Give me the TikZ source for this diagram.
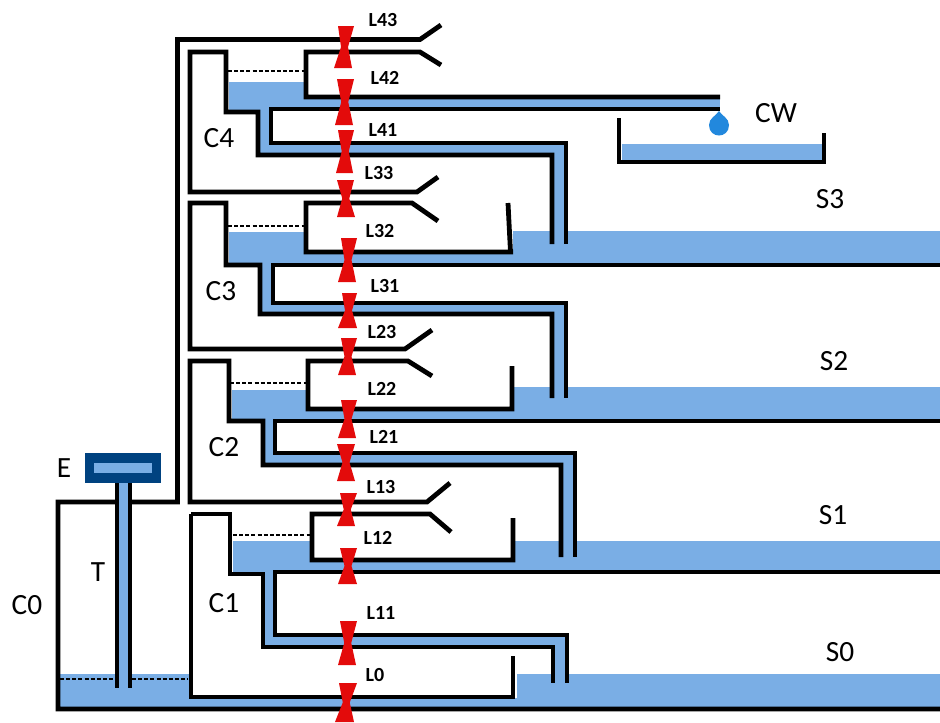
\documentclass[tikz,border=0pt]{standalone}
\usepackage{fontspec}
\setmainfont{Carlito}
\definecolor{water}{HTML}{7AAEE5}
\definecolor{dropblue}{HTML}{2288DD}
\definecolor{tankblue}{HTML}{004280}
\definecolor{valvered}{HTML}{E30B0B}
\tikzset{
  wall/.style={draw=black,line width=3.6pt,line join=miter},
  level/.style={draw=black,line width=1pt,dash pattern=on 3pt off 1.6pt},
  waterfill/.style={fill=water,draw=none},
  valvefill/.style={fill=valvered,draw=none},
  biglabel/.style={font=\fontsize{22}{26}\selectfont,inner sep=0pt},
  vlabel/.style={font=\fontsize{15}{18}\selectfont\bfseries,inner sep=0pt}
}
\newcommand{\valvemark}[6]{% top y, top xl, top xr, bottom y, bottom xl, bottom xr
  \path[valvefill] (#2,#1) -- (#3,#1) -- ({(#2+#3+#5+#6)/4+3.5},{(#1+#4)/2}) -- (#6,#4) -- (#5,#4) -- ({(#2+#3+#5+#6)/4-3.5},{(#1+#4)/2}) -- cycle;
}
\begin{document}
\begin{tikzpicture}[x=0.75pt,y=-0.75pt]
\useasboundingbox[fill=white] (0,0) rectangle (940,722);
% ---- water
\path[waterfill] (60,674) rectangle (190,707);
\path[waterfill] (190,698) rectangle (940,707);
\path[waterfill] (517,674) rectangle (940,707);
% C1
\path[waterfill] (233,541) rectangle (312,572);
\path[waterfill] (312,560) rectangle (515,570);
\path[waterfill] (515,541) rectangle (940,570);
\path[waterfill] (265,572) rectangle (275,645);
\path[waterfill] (265,635) rectangle (567,645);
\path[waterfill] (555,635) rectangle (565,676);
% C2
\path[waterfill] (232,390) rectangle (308,420);
\path[waterfill] (308,409) rectangle (514,419);
\path[waterfill] (514,387) rectangle (940,419);
\path[waterfill] (265,420) rectangle (275,463);
\path[waterfill] (265,453) rectangle (575,463);
\path[waterfill] (563,453) rectangle (573,545);
% C3
\path[waterfill] (229,232) rectangle (306,264);
\path[waterfill] (306,252) rectangle (513,263);
\path[waterfill] (513,231) rectangle (940,263);
\path[waterfill] (262,264) rectangle (273,312);
\path[waterfill] (262,303) rectangle (566,312);
\path[waterfill] (554,303) rectangle (564,390);
% C4
\path[waterfill] (229,82) rectangle (304,110);
\path[waterfill] (304,97) rectangle (720,108);
\path[waterfill] (259,110) rectangle (271,154);
\path[waterfill] (259,143) rectangle (566,154);
\path[waterfill] (554,143) rectangle (564,235);
% CW
\path[waterfill] (622,144) rectangle (822,160);
% ---- dashed levels
\draw[level] (60,679) -- (115,679) (132,679) -- (188,679);
\draw[level] (233,535) -- (312,535);
\draw[level] (230,383) -- (307,383);
\draw[level] (228,226) -- (305,226);
\draw[level] (228,71) -- (305,71);
% ---- walls
% C0 and outer wall
\draw[wall] (441,25) -- (420,39.5) -- (177.5,39.5) -- (177.5,502) -- (58,502) -- (58,709) -- (940,709);
% C4
\draw[wall] (438,177) -- (417,192) -- (190,192) -- (190,52) -- (226,52) -- (226,112) -- (258,112) -- (258,155) -- (552,155) -- (552,244);
\draw[wall] (441,65) -- (420,52) -- (306,52) -- (306,97) -- (720,97);
\draw[wall] (720,109) -- (271,109) -- (271,143) -- (566,143) -- (566,244);
% C3
\draw[wall] (432,330) -- (405,349) -- (190,349) -- (190,203) -- (226,203) -- (226,265) -- (260,265) -- (260,314) -- (552,314) -- (552,398);
\draw[wall] (438,221) -- (412,203) -- (306,203) -- (306,252) -- (513,252);
\draw[wall] (510.5,252) -- (508,203);
\draw[wall] (940,265) -- (273,265) -- (273,303) -- (566,303) -- (566,398);
% C2
\draw[wall] (450,483) -- (427,502) -- (190,502) -- (190,361) -- (229,361) -- (229,421) -- (263,421) -- (263,465) -- (561,465) -- (561,557);
\draw[wall] (432,376) -- (408,361) -- (308,361) -- (308,409) -- (512,409) -- (512,366);
\draw[wall] (940,421) -- (275,421) -- (275,453) -- (575,453) -- (575,557);
% C1
\draw[wall] (191,514) -- (230,514) -- (230,574) -- (263,574) -- (263,647) -- (553,647) -- (553,683);
\draw[wall] (513,656) -- (513,697) -- (191,697) -- (191,514);
\draw[wall] (451,532) -- (430,514) -- (312,514) -- (312,560) -- (513,560) -- (513,518);
\draw[wall] (940,572) -- (275,572) -- (275,635) -- (567,635) -- (567,683);
% CW tank
\draw[wall] (619,118) -- (619,162) -- (824,162) -- (824,133);
% T and E
\path[waterfill] (119,483) rectangle (128,688);
\draw[wall] (117,483) -- (117,688);
\draw[wall] (130,483) -- (130,688);
\path[fill=tankblue] (85,453) rectangle (161,483);
\path[waterfill] (94,463) rectangle (152,473);
% drop
\path[fill=dropblue] (719,111) .. controls (722,116) and (729,118) .. (729,125) .. controls (729,139) and (709,139) .. (709,125) .. controls (709,118) and (716,116) .. (719,111) -- cycle;
% ---- valves
\valvemark{26}{338}{354}{68}{334}{352}
\valvemark{79}{337}{354}{125}{335}{353}
\valvemark{130}{338}{354}{173}{336}{353}
\valvemark{180}{337}{354}{217}{337}{355}
\valvemark{238}{341}{357}{282}{338}{356}
\valvemark{293}{342}{357}{328}{338}{357}
\valvemark{338}{341}{357}{375}{338}{356}
\valvemark{400}{341}{357}{438}{338}{356}
\valvemark{444}{337}{355}{481}{337}{355}
\valvemark{493}{340}{357}{526}{337}{355}
\valvemark{548}{340}{357}{584}{338}{357}
\valvemark{621}{340}{357}{665}{338}{356}
\valvemark{683}{339}{357}{722}{335}{354}
% ---- labels
\node[vlabel] (l43) at (383,20) {L43};
\node[vlabel] (l42) at (385,78) {L42};
\node[vlabel] (l41) at (383,130) {L41};
\node[vlabel] (l33) at (379,173) {L33};
\node[vlabel] (l32) at (380,231) {L32};
\node[vlabel] (l31) at (385,286) {L31};
\node[vlabel] (l23) at (382,332) {L23};
\node[vlabel] (l22) at (382,389) {L22};
\node[vlabel] (l21) at (384,437) {L21};
\node[vlabel] (l13) at (381,487) {L13};
\node[vlabel] (l12) at (378,538) {L12};
\node[vlabel] (l11) at (381,613) {L11};
\node[vlabel] (l0) at (375,675) {L0};
\node[biglabel] (c4) at (219,138) {C4};
\node[biglabel] (c3) at (221,291) {C3};
\node[biglabel] (c2) at (224,447) {C2};
\node[biglabel] (c1) at (224,603) {C1};
\node[biglabel] (c0) at (27,605) {C0};
\node[biglabel] (t) at (98,572) {T};
\node[biglabel] (e) at (64,468) {E};
\node[biglabel] (cw) at (776,113) {CW};
\node[biglabel] (s3) at (830,199) {S3};
\node[biglabel] (s2) at (834,361) {S2};
\node[biglabel] (s1) at (833,515) {S1};
\node[biglabel] (s0) at (840,652) {S0};
\end{tikzpicture}
\end{document}
